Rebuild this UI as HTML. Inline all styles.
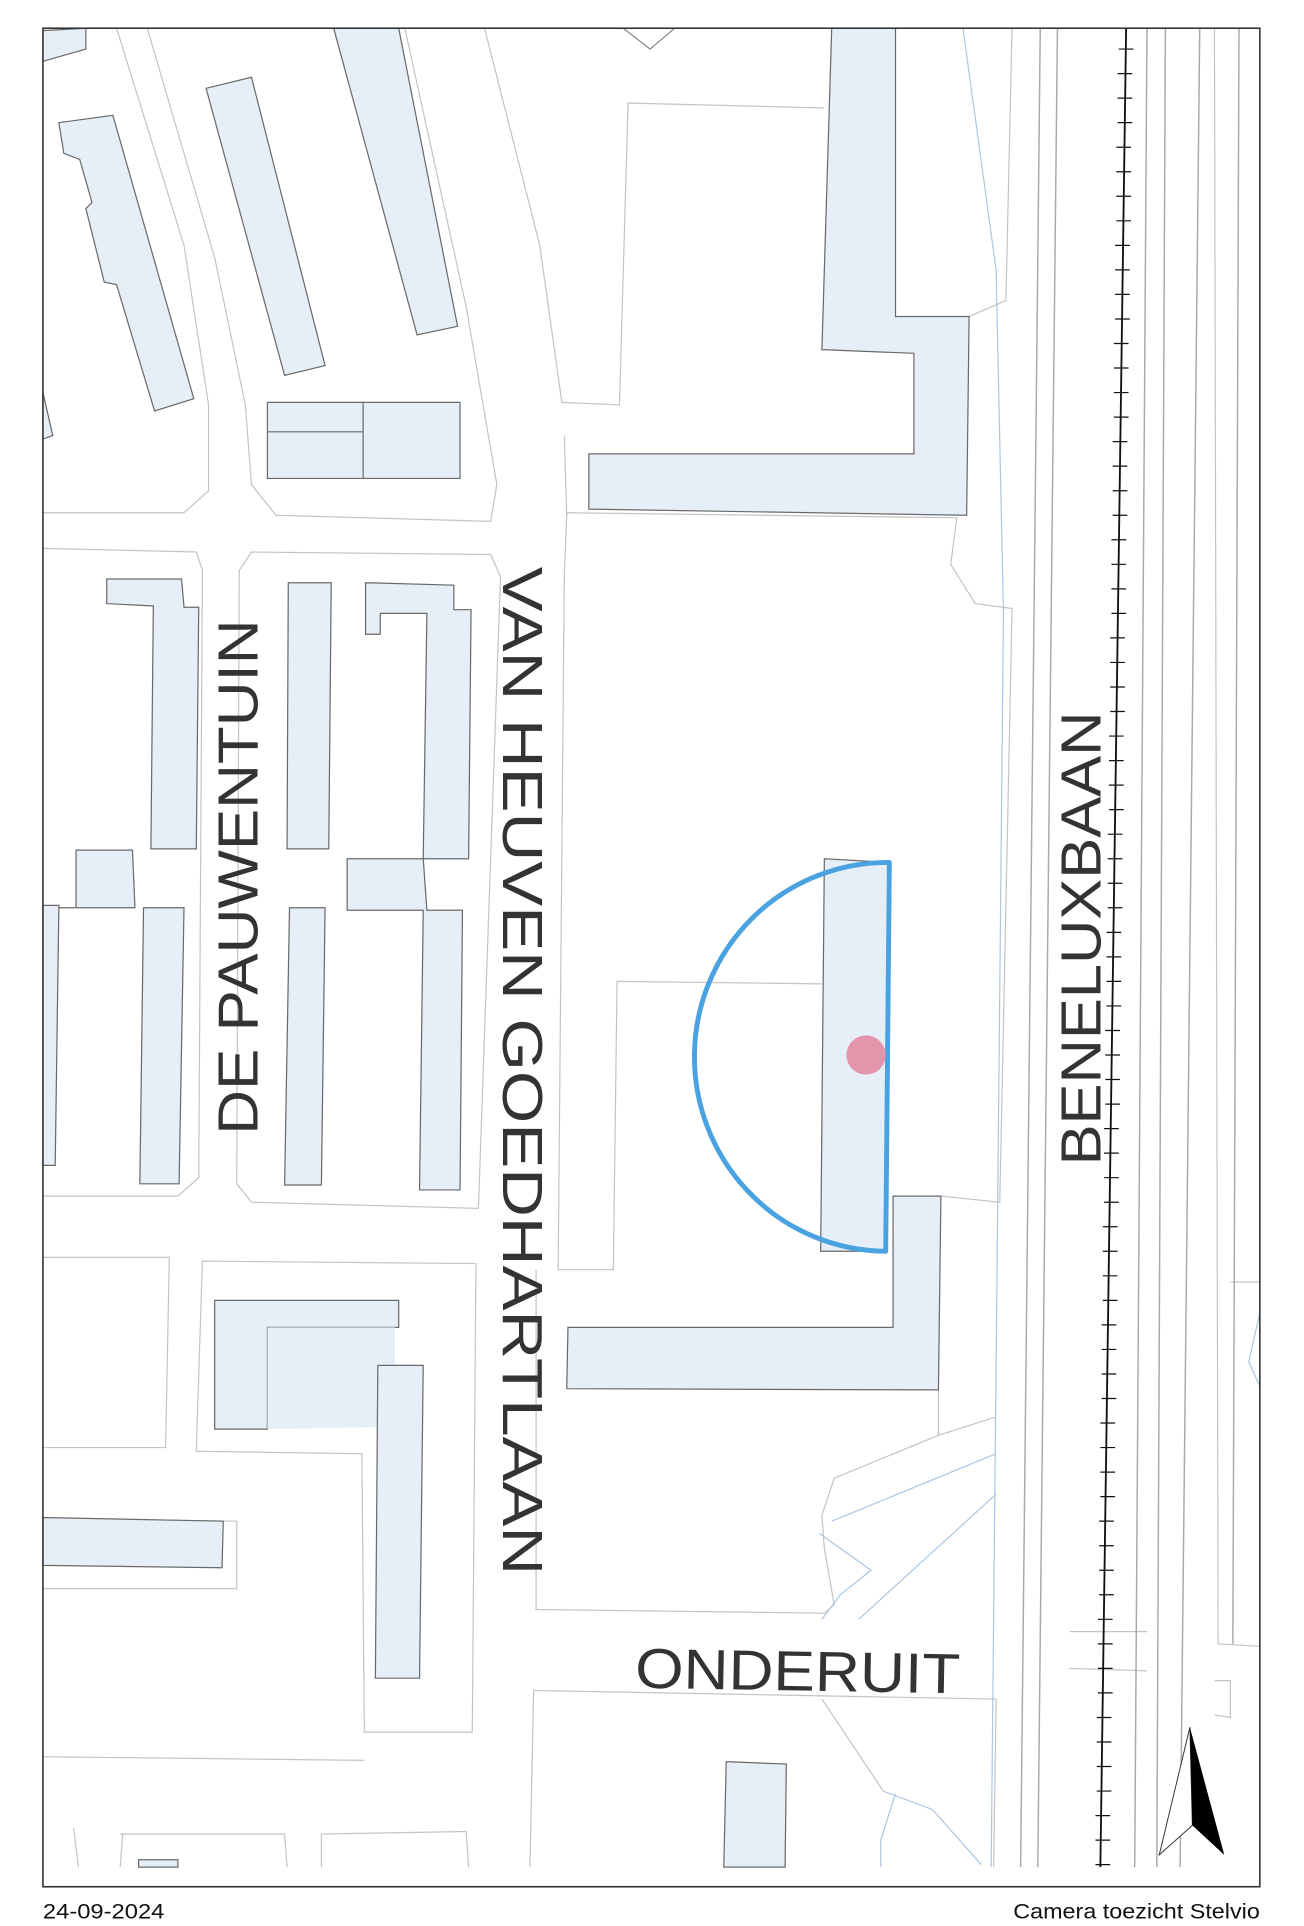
<!DOCTYPE html>
<html><head><meta charset="utf-8"><style>
html,body{margin:0;padding:0;background:#fff;}
svg{display:block;}
</style></head><body>
<svg width="1304" height="1926" viewBox="0 0 1063 1570" preserveAspectRatio="none" xmlns="http://www.w3.org/2000/svg">
<rect x="0" y="0" width="1063" height="1570" fill="#fff"/>
<g fill="none" stroke="#c4c4c4" stroke-width="1">
<path d="M95,23 L150,200 L170,330 L170,400 L150,418 L35,418"/>
<path d="M120,23 L175,210 L200,330 L205,395 L225,420 L400,425 L405,395 L380,250 L330,23"/>
<path d="M395,23 L440,200 L458,328 L505,330 L512,84 L672,88"/>
<path d="M460,355 L462,420 L460,470 L455,1035 L500,1035 L503,800 L670,802"/>
<path d="M35,447 L160,450 L165,465 L162,960 L145,975 L35,975"/>
<path d="M195,465 L205,450 L400,452 L408,470 L390,985 L205,980 L193,965 Z"/>
<path d="M462,418 L780,422 L775,460 L795,492 L825,496"/>
<path d="M790,258 L820,245 L825,23"/>
<path d="M825,496 L815,980 L767,975"/>
<path d="M35,1025 L138,1025 L135,1180 L35,1180"/>
<path d="M165,1028 L388,1030 L385,1412 L297,1412 L295,1185 L160,1183 Z"/>
<path d="M35,1238 L193,1240 L193,1295 L35,1295"/>
<path d="M35,1432 L297,1435"/>
<path d="M437,1035 L437,1312 L672,1315 L680,1308 L672,1262 L670,1235 L680,1205 L765,1170 L812,1155"/>
<path d="M765,1133 L765,1170"/>
<path d="M435,1378 L812,1385"/>
<path d="M435,1378 L432,1522"/>
<path d="M60,1490 L64,1522"/><path d="M98,1495 L232,1495 L234,1522"/><path d="M100,1495 L98,1522"/>
<path d="M262,1495 L380,1493 L382,1522"/><path d="M262,1495 L262,1522"/>
<path d="M670,1385 L720,1460"/>
<path d="M812,1385 L810,1522"/>
<path d="M990,23 L993,1340 L1027,1342"/>
<path d="M872,1330 L935,1330"/><path d="M872,1360 L935,1362"/>
<path d="M990,1370 L1003,1370 L1003,1400 L990,1398"/>
<path d="M1027,1045 L1003,1045"/>
</g>
<g fill="none" stroke="#a9a9a9" stroke-width="1.2">
<path d="M848,23 L832,1522"/><path d="M862,23 L846,1522"/>
<path d="M935,23 L925,1522"/><path d="M950,23 L943,1522"/>
<path d="M978,23 L962,1522"/>
<path d="M1010,23 L1005,1340"/>
</g>
<g fill="none" stroke="#aac8e4" stroke-width="1">
<path d="M785,23 L812,220 L818,500 L808,1522"/>
<path d="M678,1240 L812,1185"/><path d="M668,1250 L710,1280 L685,1300 L670,1320"/>
<path d="M812,1218 L700,1320"/>
<path d="M720,1460 L760,1475 L800,1520"/><path d="M730,1462 L718,1500 L718,1522"/>
<path d="M1027,1070 L1018,1110 L1027,1130"/>
</g>
<path d="M918,23 L897,1522" stroke="#111" stroke-width="1.5"/>
<g fill="#e6eff8" stroke="#6a6a6a" stroke-width="1">
<polygon points="48,100 92,94 158,325 126,335 95,232 85,230 70,170 75,165 65,130 52,125"/>
<polygon points="168,72 205,63 265,298 232,306"/>
<polygon points="272,23 325,23 373,266 340,273"/>
<polygon points="35,25 70,23 70,40 35,50"/>
<polygon points="35,320 43,355 35,358"/>
<polygon points="218,328 375,328 375,390 218,390"/>
<path d="M296,328 L296,390 M218,352 L296,352" />
<polygon points="678,23 730,23 730,258 790,258 788,420 480,415 480,370 745,370 745,288 670,285"/>
<polygon points="87,472 148,472 150,495 162,495 160,692 123,692 125,494 87,492"/>
<polygon points="235,475 270,475 268,692 234,692"/>
<polygon points="298,475 370,477 370,497 384,497 382,700 345,700 348,500 310,500 310,517 298,517"/>
<polygon points="283,700 345,700 348,742 377,742 375,970 342,970 345,742 283,742"/>
<polygon points="48,740 62,740 62,693 108,693 110,740 48,740"/>
<polygon points="35,738 48,738 45,950 35,950"/>
<polygon points="117,740 150,740 146,965 114,965"/>
<polygon points="236,740 265,740 262,966 232,966"/>
<polygon points="672,700 725,703 722,1020 669,1020"/>
<polygon points="728,975 767,975 765,1133 462,1132 463,1082 728,1082"/>
<polygon points="175,1060 325,1060 325,1082 218,1082 218,1165 175,1165"/>
<polygon points="218,1082 322,1082 322,1163 218,1165" stroke="none"/>
<polygon points="308,1113 345,1113 342,1368 306,1368"/>
<polygon points="35,1237 182,1240 181,1278 35,1276"/>
<polygon points="592,1436 641,1438 640,1522 590,1522"/>
<polygon points="113,1516 145,1516 145,1522 113,1522"/>
</g>
<path d="M508,23 L530,40 L550,23" fill="#fff" stroke="#888"/>
<path d="M725,703 A157 158 0 0 0 722,1020 Z" fill="none" stroke="#4aa3e0" stroke-width="4" stroke-linejoin="round"/>
<circle cx="706" cy="860" r="16" fill="#e48fa7" opacity="0.95"/>
<polygon points="970,1408 945,1512 972,1488" fill="#fff" stroke="#333" stroke-width="0.8"/>
<polygon points="970,1408 998,1512 972,1488" fill="#000"/>
<g font-family="Liberation Sans, sans-serif" font-size="46" fill="#333">
<text transform="translate(210,715) rotate(-90)" text-anchor="middle" textLength="420" lengthAdjust="spacingAndGlyphs">DE PAUWENTUIN</text>
<text transform="translate(410,873) rotate(90)" text-anchor="middle" textLength="822" lengthAdjust="spacingAndGlyphs">VAN  HEUVEN  GOEDHARTLAAN</text>
<text transform="translate(897,765) rotate(-90)" text-anchor="middle" textLength="370" lengthAdjust="spacingAndGlyphs">BENELUXBAAN</text>
<text transform="translate(650,1378) rotate(1)" text-anchor="middle" textLength="265" lengthAdjust="spacingAndGlyphs">ONDERUIT</text>
</g>
<rect x="35" y="23" width="992" height="1515" fill="none" stroke="#333" stroke-width="1.3"/>
<g font-family="Liberation Sans, sans-serif" font-size="17" fill="#111">
<text x="35" y="1564" textLength="99" lengthAdjust="spacingAndGlyphs">24-09-2024</text>
<text x="826" y="1564" textLength="201" lengthAdjust="spacingAndGlyphs">Camera toezicht Stelvio</text>
</g>
<g stroke="#111" stroke-width="1">
<path d="M912,40h12M911,60h12M911,80h12M911,100h12M910,120h12M910,140h12M910,160h12M910,180h12M909,200h12M909,220h12M909,240h12M909,260h12M908,280h12M908,300h12M908,320h12M908,340h12M907,360h12M907,380h12M907,400h12M907,420h12M906,440h12M906,460h12M906,480h12M906,500h12M905,520h12M905,540h12M905,560h12M905,580h12M904,600h12M904,620h12M904,640h12M904,660h12M903,680h12M903,700h12M903,720h12M903,740h12M902,760h12M902,780h12M902,800h12M902,820h12M901,840h12M901,860h12M901,880h12M901,900h12M900,920h12M900,940h12M900,960h12M900,980h12M899,1000h12M899,1020h12M899,1040h12M899,1060h12M898,1080h12M898,1100h12M898,1120h12M898,1140h12M897,1160h12M897,1180h12M897,1200h12M897,1220h12M896,1240h12M896,1260h12M896,1280h12M896,1300h12M895,1320h12M895,1340h12M895,1360h12M895,1380h12M894,1400h12M894,1420h12M894,1440h12M894,1460h12M893,1480h12M893,1500h12M893,1520h12"/>
</g>
</svg>
</body></html>
